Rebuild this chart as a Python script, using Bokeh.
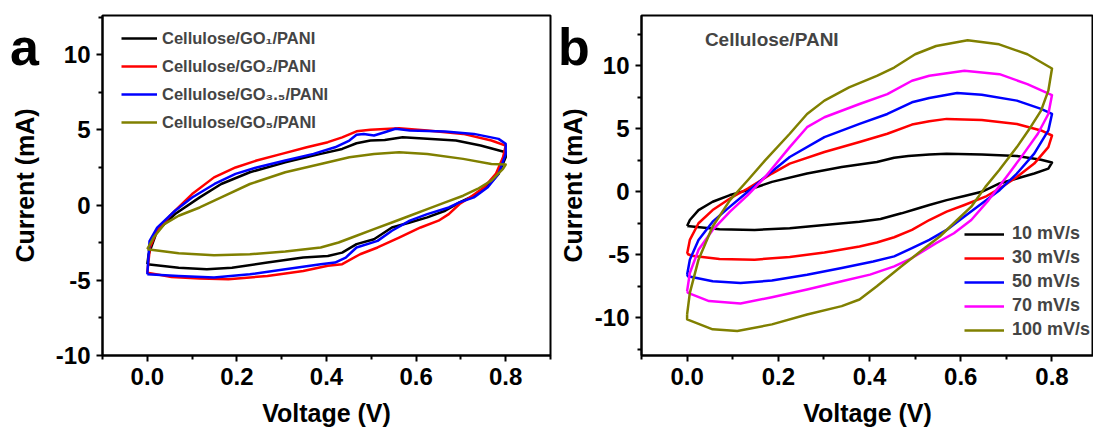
from bokeh.plotting import figure
from bokeh.models import (FixedTicker, PrintfTickFormatter, Legend, LegendItem,
                          Label, Range1d, Div)
from bokeh.layouts import row
from bokeh.embed import file_html
from bokeh.resources import INLINE

# ---------------- data: panel a ----------------
a_labels = ["Cellulose/GO\u2081/PANI", "Cellulose/GO\u2082/PANI",
            "Cellulose/GO\u2083.\u2085/PANI", "Cellulose/GO\u2085/PANI"]
a_colors = ["#000000", "#FF0000", "#0000FF", "#808000"]

a_go1_v = [0, 0.003, 0.022, 0.062, 0.117, 0.165, 0.229, 0.308, 0.387, 0.435, 0.467, 0.498, 0.53, 0.57,
           0.625, 0.689, 0.744, 0.80, 0.80, 0.784, 0.76, 0.729, 0.697, 0.665, 0.625, 0.586, 0.546,
           0.506, 0.467, 0.435, 0.403, 0.348, 0.268, 0.189, 0.133, 0.07, 0]
a_go1_i = [-3.93, -3.27, -1.71, -0.6, 0.51, 1.4, 2.18, 2.84, 3.4, 3.73, 4.11, 4.29, 4.33, 4.51,
           4.4, 4.29, 3.96, 3.51, 3.18, 2.07, 1.29, 0.62, 0.18, -0.38, -0.82, -1.16, -1.49,
           -2.27, -2.6, -3.16, -3.38, -3.49, -3.82, -4.16, -4.27, -4.16, -3.93]

a_go2_v = [0, 0.006, 0.022, 0.054, 0.10, 0.149, 0.197, 0.244, 0.30, 0.356, 0.403, 0.435, 0.467, 0.498,
           0.562, 0.625, 0.705, 0.768, 0.80, 0.794, 0.778, 0.752, 0.72, 0.697, 0.673, 0.65, 0.61,
           0.562, 0.514, 0.475, 0.435, 0.403, 0.348, 0.268, 0.181, 0.117, 0.054, 0]
a_go2_i = [-4.49, -2.8, -1.7, -0.6, 0.73, 1.84, 2.5, 2.96, 3.4, 3.84, 4.18, 4.5, 4.9, 5.0,
           5.1, 4.96, 4.73, 4.29, 3.95, 3.18, 2.07, 1.18, 0.5, 0.07, -0.6, -1.04, -1.49,
           -2.16, -2.82, -3.27, -3.93, -4.04, -4.38, -4.71, -4.93, -4.89, -4.78, -4.49]

a_go35_v = [0, 0.005, 0.022, 0.062, 0.10, 0.15, 0.197, 0.244, 0.308, 0.371, 0.419, 0.451, 0.467, 0.483,
            0.506, 0.53, 0.554, 0.586, 0.665, 0.729, 0.784, 0.80, 0.80, 0.784, 0.76, 0.729, 0.697,
            0.673, 0.625, 0.586, 0.546, 0.514, 0.467, 0.443, 0.419, 0.387, 0.308, 0.229, 0.149, 0.07, 0]
a_go35_i = [-4.6, -2.4, -1.5, -0.38, 0.5, 1.4, 2.07, 2.5, 2.96, 3.4, 3.84, 4.29, 4.67, 4.73,
            4.62, 4.84, 5.07, 4.96, 4.89, 4.73, 4.4, 4.07, 3.4, 2.07, 1.18, 0.51, 0.18,
            -0.16, -0.6, -1.04, -1.71, -2.38, -2.82, -3.49, -3.82, -3.93, -4.27, -4.6, -4.82, -4.71, -4.6]

a_go5_v = [0, 0.014, 0.038, 0.07, 0.117, 0.165, 0.229, 0.308, 0.387, 0.451, 0.506, 0.562, 0.625, 0.705,
           0.768, 0.80, 0.794, 0.768, 0.737, 0.705, 0.665, 0.625, 0.586, 0.546, 0.506, 0.467, 0.427,
           0.387, 0.308, 0.229, 0.149, 0.07, 0]
a_go5_i = [-2.93, -2.16, -1.27, -0.71, -0.16, 0.51, 1.4, 2.18, 2.73, 3.18, 3.4, 3.51, 3.4, 3.07,
           2.73, 2.69, 2.4, 1.62, 1.07, 0.62, 0.18, -0.27, -0.71, -1.16, -1.6, -2.04, -2.49,
           -2.82, -3.09, -3.27, -3.33, -3.2, -2.93]

# ---------------- data: panel b ----------------
b_labels = ["10 mV/s", "30 mV/s", "50 mV/s", "70 mV/s", "100 mV/s"]
b_colors = ["#000000", "#FF0000", "#0000FF", "#FF00FF", "#808000"]

b_10_v = [0, 0.006, 0.025, 0.056, 0.094, 0.133, 0.186, 0.263, 0.339, 0.416, 0.454, 0.485, 0.531, 0.569,
          0.646, 0.723, 0.776, 0.80, 0.792, 0.761, 0.723, 0.685, 0.646, 0.608, 0.569, 0.531, 0.50,
          0.47, 0.424, 0.378, 0.301, 0.225, 0.148, 0.071, 0]
b_10_i = [-2.71, -2.24, -1.45, -0.79, -0.26, 0.13, 0.79, 1.45, 1.97, 2.37, 2.71, 2.84, 2.97, 3.03,
          2.97, 2.84, 2.55, 2.32, 1.84, 1.45, 1.05, 0.66, 0.0, -0.34, -0.66, -1.05, -1.39,
          -1.71, -2.16, -2.37, -2.63, -2.89, -3.03, -2.97, -2.71]

b_30_v = [0, 0.006, 0.025, 0.056, 0.094, 0.133, 0.186, 0.225, 0.301, 0.378, 0.439, 0.493, 0.531, 0.569,
          0.646, 0.723, 0.776, 0.80, 0.792, 0.761, 0.723, 0.685, 0.654, 0.608, 0.569, 0.531, 0.493,
          0.454, 0.416, 0.378, 0.301, 0.225, 0.148, 0.071, 0.01, 0]
b_30_i = [-4.92, -3.82, -2.5, -1.45, -0.53, 0.26, 1.45, 2.24, 3.16, 3.95, 4.61, 5.34, 5.61, 5.79,
          5.71, 5.39, 4.87, 4.47, 3.55, 2.24, 1.18, 0.26, -0.39, -1.05, -1.58, -2.24, -3.03,
          -3.61, -4.03, -4.34, -4.82, -5.18, -5.39, -5.34, -5.08, -4.92]

b_50_v = [0, 0.006, 0.025, 0.056, 0.094, 0.133, 0.171, 0.225, 0.301, 0.378, 0.439, 0.493, 0.531, 0.592,
          0.646, 0.723, 0.776, 0.80, 0.792, 0.761, 0.723, 0.685, 0.646, 0.608, 0.569, 0.531, 0.493,
          0.454, 0.408, 0.339, 0.263, 0.186, 0.117, 0.056, 0.002, 0]
b_50_i = [-6.58, -5.39, -3.82, -2.37, -1.18, 0.0, 1.18, 2.76, 4.34, 5.39, 6.18, 7.11, 7.45, 7.84,
          7.71, 7.24, 6.58, 6.18, 4.87, 3.03, 1.45, 0.13, -0.92, -1.97, -3.03, -3.82, -4.47,
          -5.13, -5.53, -6.05, -6.58, -7.05, -7.24, -7.11, -6.71, -6.58]

b_70_v = [0, 0.006, 0.025, 0.056, 0.094, 0.133, 0.171, 0.225, 0.263, 0.301, 0.378, 0.439, 0.493, 0.531,
          0.608, 0.685, 0.746, 0.80, 0.792, 0.769, 0.738, 0.70, 0.661, 0.623, 0.585, 0.546, 0.493,
          0.454, 0.401, 0.339, 0.263, 0.186, 0.117, 0.048, 0.002, 0]
b_70_i = [-7.89, -6.45, -4.61, -3.03, -1.58, -0.26, 1.18, 3.55, 5.13, 5.92, 6.97, 7.76, 8.82, 9.21,
          9.61, 9.34, 8.55, 7.68, 6.18, 4.61, 3.03, 1.18, -0.66, -2.24, -3.29, -4.08, -5.26,
          -5.92, -6.58, -7.11, -7.76, -8.37, -8.87, -8.68, -8.03, -7.89]

b_100_v = [0, 0.006, 0.025, 0.056, 0.094, 0.133, 0.171, 0.225, 0.263, 0.301, 0.355, 0.416, 0.454, 0.50,
           0.546, 0.615, 0.684, 0.746, 0.80, 0.792, 0.776, 0.753, 0.723, 0.684, 0.654, 0.623, 0.592,
           0.554, 0.516, 0.47, 0.416, 0.378, 0.339, 0.263, 0.186, 0.11, 0.056, 0, 0]
b_100_i = [-9.74, -8.03, -5.39, -2.76, -0.66, 0.92, 2.5, 4.61, 6.18, 7.24, 8.29, 9.21, 9.87, 10.92,
           11.58, 12.03, 11.71, 10.92, 9.79, 8.03, 6.45, 5.13, 3.55, 1.71, 0.39, -1.18, -2.24,
           -3.55, -4.61, -5.92, -7.5, -8.55, -9.08, -9.74, -10.53, -11.05, -10.92, -10.13, -9.74]

x_major = [0.0, 0.2, 0.4, 0.6, 0.8]
x_minor = [-0.1, 0.1, 0.3, 0.5, 0.7, 0.9]
y_major = [-10, -5, 0, 5, 10]
y_minor = [-12.5, -7.5, -2.5, 2.5, 7.5, 12.5]

FONT = "Liberation Sans"


def style(p, ylab_standoff):
    p.outline_line_color = "black"
    p.outline_line_width = 2
    p.grid.visible = False
    p.background_fill_color = "white"
    p.border_fill_color = "white"
    p.xaxis.ticker = FixedTicker(ticks=x_major, minor_ticks=x_minor)
    p.yaxis.ticker = FixedTicker(ticks=y_major, minor_ticks=y_minor)
    p.xaxis.formatter = PrintfTickFormatter(format="%.1f")
    p.yaxis.formatter = PrintfTickFormatter(format="%d")
    for ax in (p.xaxis[0], p.yaxis[0]):
        ax.axis_line_width = 2
        ax.major_tick_line_width = 2
        ax.minor_tick_line_width = 2
        ax.major_tick_in = 0
        ax.major_tick_out = 6
        ax.minor_tick_in = 0
        ax.minor_tick_out = 4
        ax.major_label_text_font = FONT
        ax.major_label_text_font_style = "bold"
        ax.major_label_text_font_size = "24px"
        ax.major_label_text_color = "black"
        ax.axis_label_text_font = FONT
        ax.axis_label_text_font_style = "bold"
        ax.axis_label_text_font_size = "25px"
        ax.axis_label_text_color = "black"
        ax.major_label_standoff = 6
    p.xaxis.axis_label = "Voltage (V)"
    p.yaxis.axis_label = "Current (mA)"
    p.xaxis.axis_label_standoff = 11
    p.yaxis.axis_label_standoff = ylab_standoff


def panel_letter(letter, left, top):
    return Div(text=letter, width=40, height=60,
               styles={"position": "absolute", "left": f"{left}px", "top": f"{top}px",
                       "font-family": FONT, "font-weight": "bold", "font-size": "52px",
                       "line-height": "52px", "color": "black", "margin": "0",
                       "padding": "0", "z-index": "10"})


# ---------------- panel a ----------------
pa = figure(width=555, height=436, x_range=Range1d(-0.1, 0.9), y_range=Range1d(-10, 12.6),
            output_backend="svg", toolbar_location=None,
            min_border_left=102, min_border_right=5, min_border_top=15, min_border_bottom=81)
style(pa, 14)
a_series = [(a_go1_v, a_go1_i), (a_go2_v, a_go2_i), (a_go35_v, a_go35_i), (a_go5_v, a_go5_i)]
a_items = []
for (v, i), c, lab in zip(a_series, a_colors, a_labels):
    r = pa.line(v, i, line_color=c, line_width=2.5, line_join="round")
    a_items.append(LegendItem(label=lab, renderers=[r]))
leg_a = Legend(items=a_items, location=(19, 223), padding=0, margin=0, spacing=8,
               label_height=20, glyph_height=20, glyph_width=36, label_standoff=5,
               label_text_font=FONT, label_text_font_style="bold", label_text_font_size="16.5px",
               background_fill_alpha=0, border_line_color=None)
pa.add_layout(leg_a)

# ---------------- panel b ----------------
pb = figure(width=538, height=436, x_range=Range1d(-0.1, 0.891), y_range=Range1d(-13, 14),
            output_backend="svg", toolbar_location=None,
            min_border_left=82, min_border_right=0, min_border_top=14, min_border_bottom=80)
style(pb, 5)
b_series = [(b_10_v, b_10_i), (b_30_v, b_30_i), (b_50_v, b_50_i), (b_70_v, b_70_i), (b_100_v, b_100_i)]
b_items = []
for (v, i), c, lab in zip(b_series, b_colors, b_labels):
    r = pb.line(v, i, line_color=c, line_width=2.5, line_join="round")
    b_items.append(LegendItem(label=lab, renderers=[r]))
leg_b = Legend(items=b_items, location=(323, 15), padding=0, margin=0, spacing=3,
               label_height=20, glyph_height=20, glyph_width=40, label_standoff=8,
               label_text_font=FONT, label_text_font_style="bold", label_text_font_size="18px",
               background_fill_alpha=0, border_line_color=None)
pb.add_layout(leg_b)
pb.add_layout(Label(x=0.039, y=12.1, text="Cellulose/PANI", text_font=FONT,
                    text_font_style="bold", text_font_size="19px", text_baseline="middle"))

layout = row(pa, pb, panel_letter("a", 10, 21), panel_letter("b", 558, 21), spacing=0)
open("out.html", "w").write(file_html(layout, INLINE))
